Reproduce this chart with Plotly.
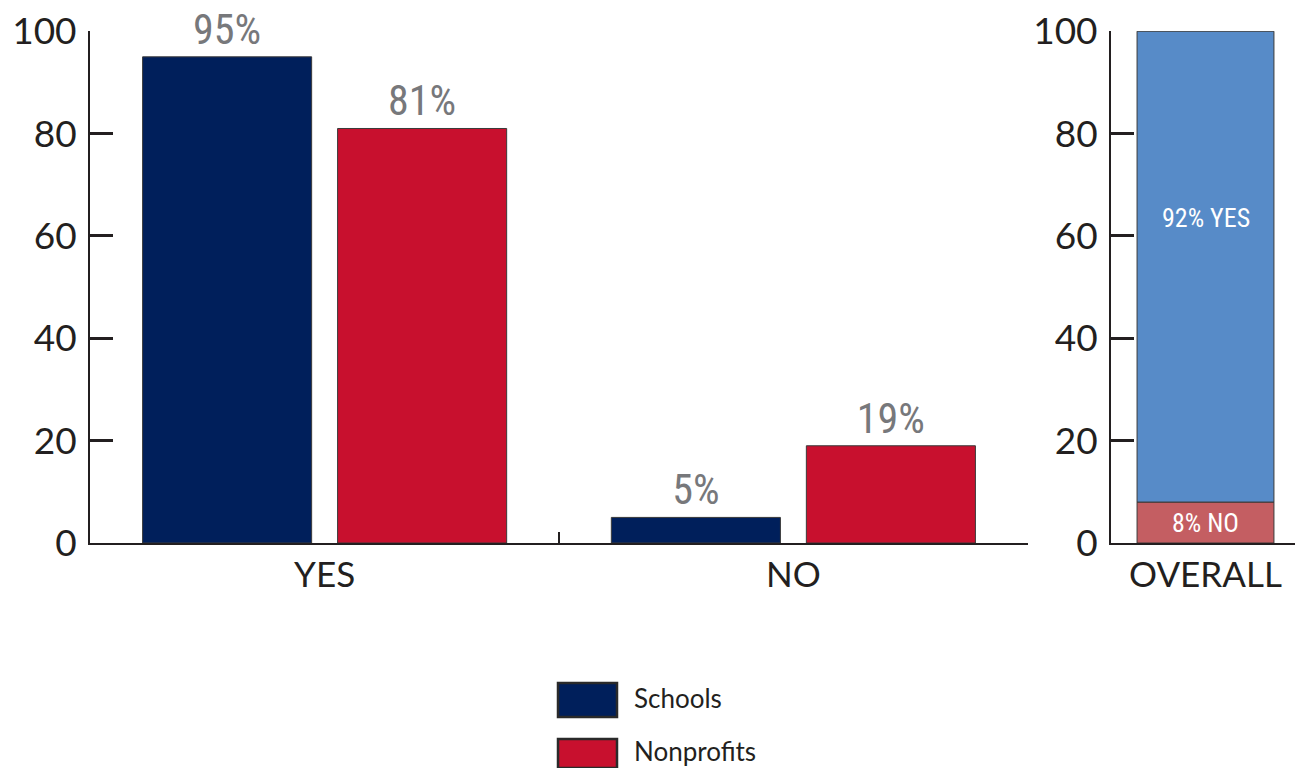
import plotly.graph_objects as go

# ---- data ----
categories = ["YES", "NO"]
series_names = ["Schools", "Nonprofits"]
schools = [95, 5]
nonprofits = [81, 19]
overall_category = ["OVERALL"]
overall_yes = [92]
overall_no = [8]
y_ticks = [0, 20, 40, 60, 80, 100]

# ---- style ----
PAGE_OFF = 8                      # browser default body margin
W, H = 1303 - PAGE_OFF, 768 - PAGE_OFF
C_SCHOOL = "#001f5b"
C_NONPROF = "#c8102e"
C_YES = "#578bc8"
C_NO = "#c45e62"
C_TEXT = "#231f20"
C_VAL = "#77787b"
EDGE = dict(color="#3a3a3a", width=1)
GEO = "Lato, 'Noto Sans', sans-serif"
COND = ("'Noto Sans Condensed', 'Roboto Condensed', 'Open Sans Condensed', "
        "'DejaVu Sans Condensed', 'Liberation Sans Narrow', 'Arial Narrow', Roboto, sans-serif")

# target screen pixels of the plot area
TOP_PX, BOT_PX = 31, 543
T = TOP_PX - PAGE_OFF
B = H - (BOT_PX - PAGE_OFF)
plot_h = H - T - B
EPS = 0.0005


def px_x(p):
    return (p - PAGE_OFF) / W


def px_y(p):
    return (BOT_PX - p) / plot_h


fig = go.Figure()
colors = [C_SCHOOL, C_NONPROF]
for name, vals, col in zip(series_names, [schools, nonprofits], colors):
    fig.add_trace(go.Bar(
        x=categories, y=vals, name=name,
        marker=dict(color=col, line=EDGE),
        texttemplate="%{y}%", textposition="outside",
        textfont=dict(family=COND, size=42, color=C_VAL),
        cliponaxis=False, showlegend=False,
        xaxis="x", yaxis="y",
    ))

# overall stacked bar
fig.add_trace(go.Bar(
    x=overall_category, y=overall_no, name="NO",
    marker=dict(color=C_NO, line=EDGE),
    width=0.725, offset=-0.3625,
    text=[f"{v}% NO" for v in overall_no], textposition="inside",
    insidetextanchor="middle", textangle=0, constraintext="none",
    textfont=dict(family=COND, size=26, color="white"),
    showlegend=False, xaxis="x2", yaxis="y2",
))
fig.add_trace(go.Bar(
    x=overall_category, y=overall_yes, base=overall_no, name="YES",
    marker=dict(color=C_YES, line=EDGE),
    width=0.725, offset=-0.3625,
    showlegend=False, xaxis="x2", yaxis="y2",
))
fig.add_annotation(
    x=overall_category[0], y=63.5, xref="x2", yref="y2",
    text=f"{overall_yes[0]}% YES", showarrow=False,
    font=dict(family=COND, size=26, color="white"),
)

axis_common = dict(showline=True, linecolor=C_TEXT, linewidth=2, showgrid=False,
                   zeroline=False, automargin=False, ticklabeloverflow="allow")
yaxis_common = dict(axis_common, range=[0, 100 + 100 * EPS], tickmode="array",
                    tickvals=y_ticks, ticks="inside", showticklabels=True,
                    ticklen=23, tickwidth=2.5, tickcolor=C_TEXT, ticklabelstandoff=4,
                    tickfont=dict(family=GEO, size=37, color=C_TEXT))
xaxis_common = dict(axis_common, type="category", ticks="inside", tickson="boundaries",
                    ticklen=11, tickwidth=2, tickcolor=C_TEXT,
                    tickfont=dict(family=GEO, size=35, color=C_TEXT))

fig.update_layout(
    width=W, height=H,
    margin=dict(l=0, r=0, t=T, b=B),
    paper_bgcolor="white", plot_bgcolor="white",
    barmode="group", bargap=0.168, bargroupgap=0.133,
    xaxis=dict(xaxis_common, domain=[px_x(90), px_x(1028)], range=[-0.5 - EPS, 1.5 + EPS], anchor="y"),
    yaxis=dict(yaxis_common, domain=[0, 1], anchor="x"),
    xaxis2=dict(xaxis_common, domain=[px_x(1111), px_x(1300)], range=[-0.5 - EPS, 0.5 + EPS], anchor="y2"),
    yaxis2=dict(yaxis_common, domain=[0, 1], anchor="x2"),
    showlegend=False,
)

# legend (custom large swatches)
swatches = [(683, 717), (739, 768)]
label_y = [698, 751]
for name, col, (t, b), ly in zip(series_names, colors, swatches, label_y):
    fig.add_shape(type="rect", xref="paper", yref="paper",
                  x0=px_x(558), x1=px_x(617), y0=px_y(b), y1=px_y(t),
                  fillcolor=col, line=dict(color="#2a2a2a", width=2.5))
    fig.add_annotation(x=px_x(632), y=px_y(ly), xref="paper", yref="paper",
                       xanchor="left", yanchor="middle", showarrow=False,
                       text=name, font=dict(family=GEO, size=26, color=C_TEXT))

fig.write_html("out.html")
